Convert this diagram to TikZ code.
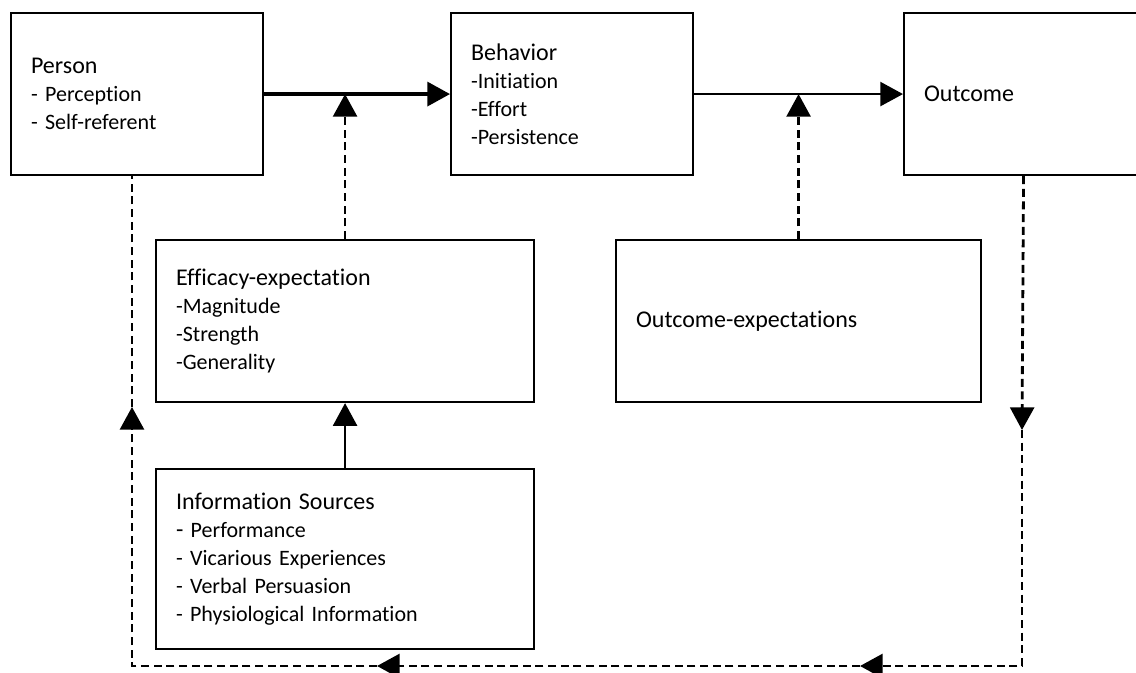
\documentclass[tikz,border=0pt]{standalone}
\usepackage{fontspec}
\setmainfont{Carlito}[Ligatures=NoCommon]
\usetikzlibrary{arrows.meta,positioning}
\newcommand{\hd}[1]{{\fontsize{18}{21}\selectfont #1}}

\begin{document}
\begin{tikzpicture}[
  x=0.75pt,y=-0.75pt,
  blk/.style={draw,line width=1.6pt,anchor=north west,align=left,
    inner xsep=15pt,inner ysep=0pt,font=\fontsize{16.5}{21}\selectfont},
  tip/.style={-{Triangle[length=17pt,width=18pt]}},
  dashln/.style={line width=2.1pt,dash pattern=on 6pt off 3.5pt,miter limit=10},
]
  \useasboundingbox (0,0) rectangle (1136,673);
  \clip (0,0) rectangle (1136,673);

  % top row
  \node[blk,text width=159pt,minimum height=121.5pt] (person) at (10,12)
    {\hd{Person}\\- Perception\\- Self-referent};
  \node[blk,text width=151.5pt,minimum height=121.5pt] (behav) at (450,12)
    {\hd{Behavior}\\-Initiation\\-Effort\\-Persistence};
  \node[blk,text width=149.25pt,minimum height=121.5pt] (outc) at (903,12)
    {\hd{Outcome}};

  % expectations
  \node[blk,text width=253.5pt,minimum height=121.5pt] (eff) at (155,239)
    {\hd{Efficacy-expectation}\\-Magnitude\\-Strength\\-Generality};
  \node[blk,text width=243.75pt,minimum height=121.5pt] (oe) at (615,239)
    {\hd{Outcome-expectations}};

  % sources
  \node[blk,text width=253.5pt,minimum height=135pt] (info) at (155,468)
    {\hd{Information Sources}\\\hd{-} Performance\\- Vicarious Experiences\\- Verbal Persuasion\\- Physiological Information};

  % main chain
  \draw[line width=2.5pt,tip] (person.east) -- (behav.west);
  \draw[line width=1.8pt,tip] (behav.east) -- (outc.west);
  \draw[dashln,tip] (eff.north) -- (eff.north |- person.east);
  \draw[dashln,tip] (oe.north) -- (oe.north |- behav.east);
  \draw[line width=1.6pt,tip] (info.north) -- (eff.south);

  % feedback loop
  \coordinate (fbR) at (1022,666);
  \coordinate (fbL) at (132,666);
  \coordinate (m1) at (1022,430);
  \coordinate (m2) at (860,666);
  \coordinate (m3) at (377,666);
  \coordinate (m4) at (132,407);
  \draw[dashln,tip] (outc.south) -- (m1);
  \draw[dashln,tip] (m1) -- (fbR) -- (m2);
  \draw[dashln,tip] (m2) -- (m3);
  \draw[dashln,tip] (m3) -- (fbL) -- (m4);
  \draw[dashln] (m4) -- (fbL |- person.south);
\end{tikzpicture}
\end{document}
